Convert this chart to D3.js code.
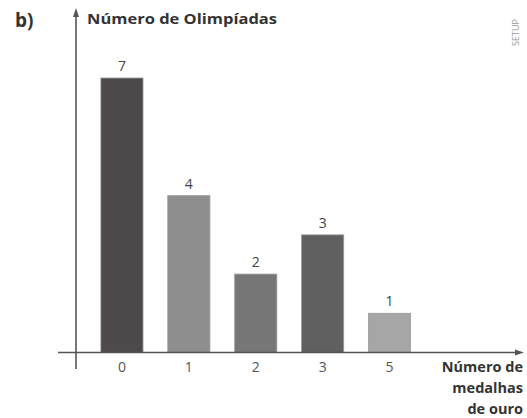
<!DOCTYPE html>
<html><head><meta charset="utf-8">
<script src="https://cdn.jsdelivr.net/npm/d3@7"></script>
<style>body{margin:0;background:#fff}svg{display:block}</style>
</head><body>
<svg id="c" width="527" height="418"></svg>
<script>
const categories = ["0", "1", "2", "3", "5"];
const values = [7, 4, 2, 3, 1];
const barColors = ["#4e4a4b", "#8f8e8e", "#787777", "#616060", "#a7a6a6"];
const yTitle = "Número de Olimpíadas";
const xTitleLines = ["Número de", "medalhas", "de ouro"];

const svg = d3.select("#c");
const baseY = 352.5, axisX = 76;

const x = d3.scaleBand().domain(categories).range([88.5, 423]).paddingInner(0.37).paddingOuter(0.185);
const y = d3.scaleLinear().domain([0, 7]).range([baseY, 78]);

const font = "'Open Sans', sans-serif";
const axisCol = "#555";

// bars
svg.selectAll("rect.bar").data(values).join("rect")
  .attr("class", "bar")
  .attr("x", (d, i) => x(categories[i]))
  .attr("width", x.bandwidth())
  .attr("y", d => y(d))
  .attr("height", d => baseY - y(d))
  .attr("fill", (d, i) => barColors[i])
  .attr("stroke", "#9a9a9a").attr("stroke-width", 0.8);

// value labels
svg.selectAll("text.val").data(values).join("text")
  .attr("class", "val")
  .attr("x", (d, i) => x(categories[i]) + x.bandwidth() / 2)
  .attr("y", d => y(d) - 7)
  .attr("text-anchor", "middle")
  .attr("font-family", font).attr("font-size", 14).attr("fill", "#444")
  .text(d => d);

// x axis
const xAxis = d3.axisBottom(x).tickSize(0).tickPadding(10);
const gx = svg.append("g").attr("transform", `translate(0,${baseY})`).call(xAxis);
gx.select(".domain").remove();
gx.selectAll("text").attr("font-family", font).attr("font-size", 14).attr("fill", "#555");
svg.append("line").attr("x1", 58).attr("x2", 518).attr("y1", baseY).attr("y2", baseY)
  .attr("stroke", axisCol).attr("stroke-width", 1.6);
svg.append("path").attr("d", `M524,${baseY} L515,${baseY - 3} L515,${baseY + 3} Z`).attr("fill", axisCol);

// y axis
svg.append("line").attr("x1", axisX).attr("x2", axisX).attr("y1", 14).attr("y2", 369)
  .attr("stroke", axisCol).attr("stroke-width", 1.6);
svg.append("path").attr("d", `M${axisX},8 L${axisX - 3},17 L${axisX + 3},17 Z`).attr("fill", axisCol);

// titles
svg.append("text").attr("x", 15).attr("y", 27).attr("font-family", font).attr("font-weight", "bold")
  .attr("font-size", 19).attr("fill", "#333").text("b)");
svg.append("text").attr("x", 87).attr("y", 24).attr("font-family", font).attr("font-weight", "bold")
  .attr("font-size", 14.5).attr("fill", "#333").attr("textLength", 190).attr("lengthAdjust", "spacingAndGlyphs").text(yTitle);

xTitleLines.forEach((t, i) => {
  svg.append("text").attr("x", 523).attr("y", 372 + i * 21).attr("text-anchor", "end")
    .attr("font-family", font).attr("font-weight", "bold").attr("font-size", 14.5).attr("fill", "#333")
    .text(t);
});

// watermark
svg.append("text").attr("transform", "translate(519,46) rotate(-90)")
  .attr("font-family", font).attr("font-size", 9).attr("fill", "#999").text("SETUP");
</script>
</body></html>
